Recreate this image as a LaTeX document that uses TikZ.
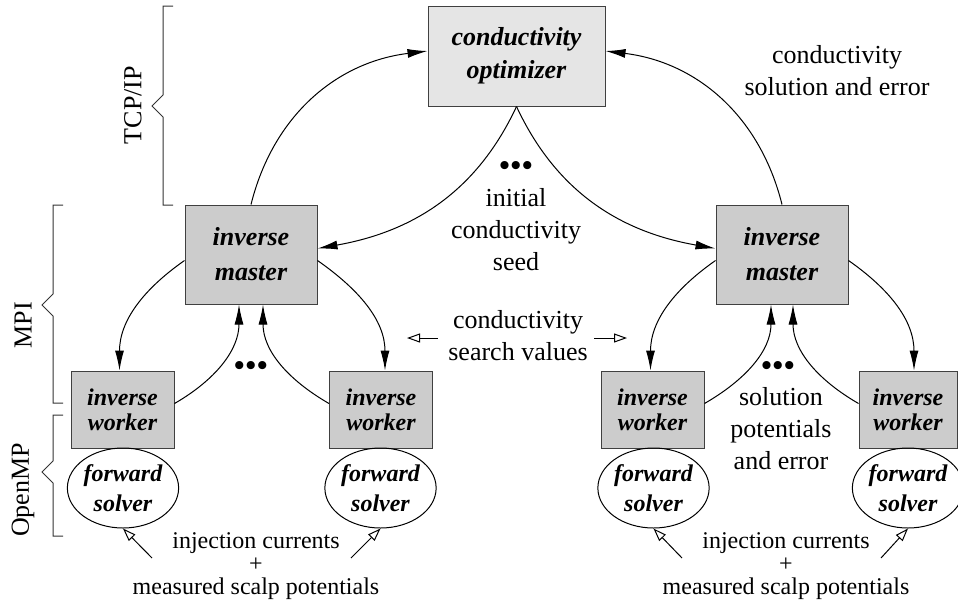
\documentclass[tikz,border=0pt]{standalone}
\usepackage{fontspec}
\setmainfont{Liberation Serif}
\usepackage{tikz}
\usetikzlibrary{shapes.geometric, arrows.meta, calc}

\begin{document}
\begin{tikzpicture}[x=0.5pt, y=-0.5pt, font=\fontsize{13}{16}\selectfont]
\tikzstyle{optimizer} = [rectangle, draw=black!75, line width=0.5pt, fill=black!10, minimum width=88.5pt, minimum height=50pt, align=center, font=\fontsize{13}{16.5}\selectfont\bfseries\itshape]
\tikzstyle{master} = [rectangle, draw=black!75, line width=0.5pt, fill=black!20, minimum width=66pt, minimum height=49.5pt, align=center, font=\fontsize{13}{17.5}\selectfont\bfseries\itshape]
\tikzstyle{worker} = [rectangle, draw=black!75, line width=0.5pt, fill=black!20, minimum width=51.5pt, minimum height=38.5pt, inner sep=0pt, align=center, font=\fontsize{12}{12.5}\selectfont\bfseries\itshape]
\tikzstyle{solver} = [ellipse, draw=black, line width=0.5pt, minimum width=55pt, minimum height=40pt, inner sep=0pt, align=center, font=\fontsize{12}{15}\selectfont\bfseries\itshape]
\tikzstyle{txt} = [align=center, inner sep=0pt]
\tikzstyle{input} = [align=center, inner sep=0pt, font=\fontsize{12}{11.5}\selectfont]
\tikzstyle{dots} = [inner sep=0pt, font=\fontsize{15}{16}\selectfont\bfseries]
\tikzstyle{arrow} = [-{Latex[length=10pt, width=4.5pt]}, line width=0.5pt]
\tikzstyle{hollow} = [-{Triangle[open, length=6.5pt, width=4.5pt]}, line width=0.5pt]
\tikzstyle{brace} = [draw=black!80, line width=0.5pt]

\useasboundingbox (0,0) rectangle (958,601);

% Optimizer
\node[optimizer] (opt) at (516.5,56) {conductivity\\optimizer};

% Inverse masters
\node[master] (mL) at (251,254.5) {inverse\\master};
\node[master] (mR) at (782,254.5) {inverse\\master};

% Inverse workers
\node[worker] (wA) at (122.5,409.5) {inverse\\worker};
\node[worker] (wB) at (381,409.5) {inverse\\worker};
\node[worker] (wC) at (652.5,409.5) {inverse\\worker};
\node[worker, minimum width=49pt] (wD) at (908,409.5) {inverse\\worker};

% Forward solvers
\node[solver] (fA) at (123,488) {forward\\solver};
\node[solver] (fB) at (380.5,488) {forward\\solver};
\node[solver] (fC) at (653.5,488) {forward\\solver};
\node[solver] (fD) at (908,488) {forward\\solver};

% Labels
\node[txt] (back) at (837,71) {conductivity\\solution and error};
\node[dots] (dTop) at (516,168) {\textbullet\kern0.5pt\textbullet\kern0.5pt\textbullet};
\node[txt] (seed) at (516,230) {initial\\conductivity\\seed};
\node[txt] (search) at (518,336) {conductivity\\search values};
\node[dots] (dL) at (251,368) {\textbullet\kern0.5pt\textbullet\kern0.5pt\textbullet};
\node[dots] (dR) at (778,368) {\textbullet\kern0.5pt\textbullet\kern0.5pt\textbullet};
\node[txt] (errs) at (781,429) {solution\\potentials\\and error};
\node[input] (inL) at (256,566) {injection currents\\+\\measured scalp potentials};
\node[input] (inR) at (786,566) {injection currents\\+\\measured scalp potentials};

% Layers
\node[rotate=90] (tcp) at (133,105) {TCP/IP};
\node[rotate=90] (mpi) at (23,325) {MPI};
\node[rotate=90] (omp) at (23,490) {OpenMP};
\draw[brace] (173,6) -- (163,6) -- (163,95) -- (152,106) -- (163,117) -- (163,205) -- (173,205);
\draw[brace] (63,205) -- (53,205) -- (53,294) -- (42,305) -- (53,316) -- (53,403) -- (63,403);
\draw[brace] (63,415) -- (53,415) -- (53,461) -- (42,472) -- (53,483) -- (53,536) -- (63,536);

% Optimizer <-> masters
\draw[arrow] (mL.north) to[out=76, in=187] ($(opt.west)+(0,-5)$);
\draw[arrow] (mR.north) to[out=104, in=-7] ($(opt.east)+(0,-5)$);
\draw[arrow] (opt.south) to[out=245, in=10] ($(mL.east)+(0,-6)$);
\draw[arrow] (opt.south) to[out=295, in=170] ($(mR.west)+(0,-6)$);

% Masters <-> workers
\draw[arrow] ($(mL.west)+(0,6)$) to[out=215, in=90] ($(wA.north)+(-3,0)$);
\draw[arrow] ($(mL.east)+(0,6)$) to[out=-35, in=90] ($(wB.north)+(4,0)$);
\draw[arrow] ($(wA.east)+(0,-6)$) to[out=30, in=-90] ($(mL.south)+(-12,0)$);
\draw[arrow] ($(wB.west)+(0,-6)$) to[out=150, in=-90] ($(mL.south)+(12,0)$);
\draw[arrow] ($(mR.west)+(0,6)$) to[out=215, in=90] ($(wC.north)+(-2,0)$);
\draw[arrow] ($(mR.east)+(0,6)$) to[out=-35, in=90] ($(wD.north)+(6,0)$);
\draw[arrow] ($(wC.east)+(0,-6)$) to[out=30, in=-90] ($(mR.south)+(-11,0)$);
\draw[arrow] ($(wD.west)+(0,-6)$) to[out=150, in=-90] ($(mR.south)+(11,0)$);

% Search values
\coordinate (sL) at (407,338);
\coordinate (sR) at (627,338);
\draw[hollow, shorten <=5pt] (search.west |- sL) -- (sL);
\draw[hollow, shorten <=3pt] (search.east |- sR) -- (sR);

% Inputs
\coordinate (iA) at (152,558);
\coordinate (iB) at (351,558);
\coordinate (iC) at (682,558);
\coordinate (iD) at (881,558);
\draw[hollow] (iA) -- (fA.south);
\draw[hollow] (iB) -- (fB.south);
\draw[hollow] (iC) -- (fC.south);
\draw[hollow] (iD) -- (fD.south);
\end{tikzpicture}
\end{document}
